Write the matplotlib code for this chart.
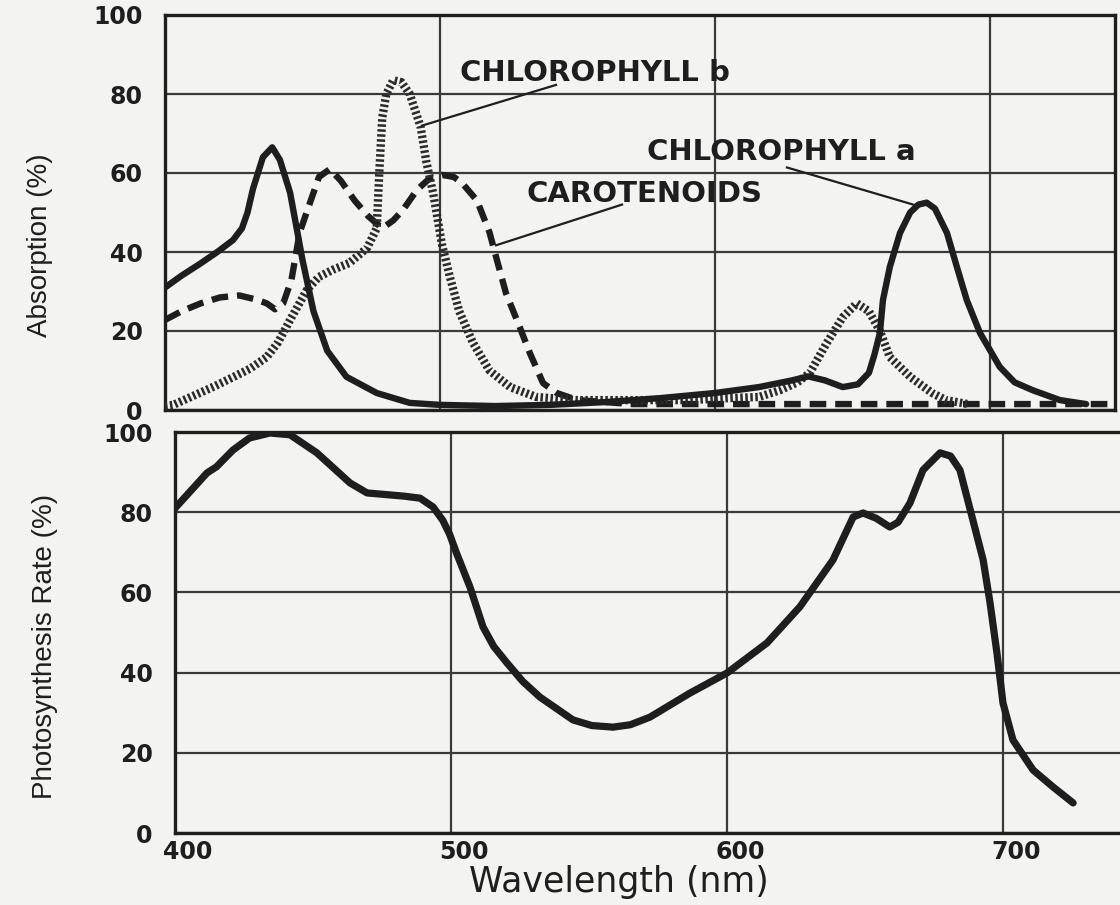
import matplotlib
matplotlib.use("Agg")
import matplotlib.pyplot as plt
from matplotlib.transforms import ScaledTranslation

# --- absorption spectra (top panel) ---
chl_a_nm = [400, 406, 412.7, 419, 424.7, 428, 430, 432, 435.6, 439, 441.8, 445.5, 450, 454,
            459, 466, 477, 489, 500, 520, 540, 560, 580, 600, 616, 628, 634, 640, 646.5,
            652, 656, 658, 660, 661.1, 663.6, 667.3, 671, 674, 677, 680, 684.4, 688,
            691.6, 696.4, 703.6, 709, 715.6, 725.5, 735]
chl_a_abs = [31, 34, 37, 40, 43, 46, 50, 56, 64, 66.5, 63.3, 55, 38, 25,
             15, 8.4, 4.3, 1.8, 1.3, 1.0, 1.3, 2, 3, 4.3, 5.8, 7.5, 8.5, 7.5, 5.8,
             6.5, 9.4, 14, 19.5, 27.8, 36.2, 44.8, 50, 52, 52.5, 51, 44.8, 36.2,
             27.8, 19.5, 10.9, 7, 5, 2.5, 1.5]

chl_b_nm = [400, 403, 410, 418, 425, 431, 437, 441, 445.5, 451.6, 456, 461, 467, 473.5,
            477, 478, 479, 480.5, 483, 486, 489, 493, 495, 497.5, 500.7, 503.6, 507,
            512, 518, 525.5, 535, 550, 570, 590, 605, 616, 623.6, 630, 634.5, 640.7,
            646.5, 651.6, 656, 660, 663.6, 671, 679, 684, 692]
chl_b_abs = [1, 1.3, 3.5, 6, 8.4, 10.5, 13.4, 17, 22.8, 30.4, 33.7, 35.5, 37.2, 41,
             46, 61, 74, 80, 83.5, 83, 80, 71.6, 63, 55, 42, 33.7, 25,
             17, 10, 5.8, 3.3, 2.5, 2.5, 2.5, 3, 3.3, 5, 7, 9.4, 17,
             23.5, 27, 25, 20, 13.4, 8.4, 4.3, 2.5, 1.5]

carot_nm = [400, 406, 413, 420, 427, 433, 437, 440, 443, 446, 449, 453, 456, 460, 464,
            469, 474, 479, 483, 486.5, 491.6, 496, 501, 505, 508, 513.5, 518, 520.7,
            524, 529, 532.7, 537.5, 542.5, 550, 570, 600, 650, 700, 745]
carot_abs = [22.8, 25, 27, 28.5, 29, 28, 27, 25.5, 27, 33, 45, 53, 59, 61, 58,
             53, 49, 46, 48, 50.6, 55.7, 58.5, 59.5, 59, 57.5, 53, 45, 38,
             29.6, 21, 14.4, 6.8, 4.3, 2.5, 1.5, 1.5, 1.5, 1.5, 1.5]

# --- action spectrum (bottom panel) ---
rate_nm = [400, 411.6, 415, 421, 427, 434.4, 441.7, 451.4, 457, 463.4, 469.6, 478, 483,
           488.8, 493.5, 497, 499.5, 502, 506.9, 511.6, 515.5, 520.3, 526, 532.2, 544.2,
           551, 558.7, 565, 572.1, 586.6, 600, 614.5, 626.4, 638.4, 645.7, 649.3, 654,
           659, 662, 666.3, 671, 677.2, 681, 684.4, 689.1, 692.8, 695.3, 697.8, 700,
           703.6, 710.9, 718.1, 725.4]
rate_pct = [81, 89.8, 91.3, 95.5, 98.5, 99.75, 99.3, 94.8, 91.3, 87.3, 84.8, 84.3, 84.0,
            83.5, 81.3, 78, 74.5, 69.8, 61.3, 51.4, 46.5, 42.4, 37.8, 33.9, 28.2,
            26.8, 26.4, 27.0, 28.9, 34.9, 39.9, 47.4, 56.4, 68.1, 78.8, 79.8, 78.5,
            76.3, 77.5, 82.3, 90.5, 94.8, 94.0, 90.5, 78, 68.1, 57.4, 44.9, 32.4,
            23.2, 15.7, 11.5, 7.5]

y_ticks = [0, 20, 40, 60, 80, 100]
x_ticks = [400, 500, 600, 700]

PAPER = "#f3f3f1"
INK = "#1e1e1e"
GRID = "#3a3a3a"

fig = plt.figure(figsize=(11.2, 9.05), dpi=100)
fig.patch.set_facecolor(PAPER)

ax1 = fig.add_axes([165 / 1120, 1 - 410 / 905, 950 / 1120, 395 / 905])
ax2 = fig.add_axes([175 / 1120, 1 - 833 / 905, 950 / 1120, 401 / 905])

for ax, xmax in ((ax1, 745.5), (ax2, 744.2)):
    ax.set_facecolor(PAPER)
    ax.set_xlim(400, xmax)
    ax.set_ylim(0, 100)
    ax.set_xticks(x_ticks)
    ax.set_yticks(y_ticks)
    ax.grid(True, color=GRID, lw=1.6)
    ax.set_axisbelow(True)
    for s in ax.spines.values():
        s.set_color(INK)
        s.set_linewidth(2.4)
    ax.tick_params(length=0, labelsize=17, pad=16, colors=INK)
    for lab in ax.get_yticklabels():
        lab.set_fontweight("bold")

ax1.tick_params(axis="x", labelbottom=False)
ax2.spines["right"].set_visible(False)
ax2.tick_params(axis="x", pad=5)
for lab in ax2.get_xticklabels():
    lab.set_fontweight("bold")
    lab.set_transform(lab.get_transform() + ScaledTranslation(0.13, 0, fig.dpi_scale_trans))

# top: absorption curves
ax1.plot(carot_nm, carot_abs, color=INK, lw=4.6, linestyle=(0, (2.6, 1.4)),
         solid_joinstyle="round", zorder=3)
ax1.plot(chl_b_nm, chl_b_abs, color="#2b2b2b", lw=6.0, linestyle=(0, (0.3, 0.3)),
         dash_capstyle="butt", zorder=4)
ax1.plot(chl_a_nm, chl_a_abs, color=INK, lw=4.6, solid_joinstyle="round",
         solid_capstyle="round", zorder=5)

# labels and leader lines
lab_kw = dict(fontsize=21, fontweight="bold", color=INK, ha="center", va="center",
              family="DejaVu Sans", zorder=6)
ax1.text(556.4, 85.4, "CHLOROPHYLL b", **lab_kw)
ax1.plot([542.2, 493.5], [82.3, 72.0], color=INK, lw=1.6, zorder=6)
ax1.text(624.0, 65.2, "CHLOROPHYLL a", **lab_kw)
ax1.plot([626.2, 673.1], [61.4, 51.8], color=INK, lw=1.6, zorder=6)
ax1.text(574.5, 54.8, "CAROTENOIDS", **lab_kw)
ax1.plot([566.2, 520.4], [52.0, 41.7], color=INK, lw=1.6, zorder=6)

# bottom: photosynthesis rate
ax2.plot(rate_nm, rate_pct, color=INK, lw=5.2, solid_joinstyle="round",
         solid_capstyle="round", zorder=5)

side = ["Liberation Sans", "DejaVu Sans"]
fig.text(40 / 1120, 1 - 245 / 905, "Absorption (%)", rotation=90, ha="center",
         va="center", fontsize=20, family=side, color=INK)
fig.text(45 / 1120, 1 - 646 / 905, "Photosynthesis Rate (%)", rotation=90, ha="center",
         va="center", fontsize=20, family=side, color=INK)
fig.text(619 / 1120, 1 - 882 / 905, "Wavelength (nm)", ha="center", va="center",
         fontsize=25, family="DejaVu Sans", color=INK)

fig.savefig("out.png", dpi=100, facecolor=PAPER)
